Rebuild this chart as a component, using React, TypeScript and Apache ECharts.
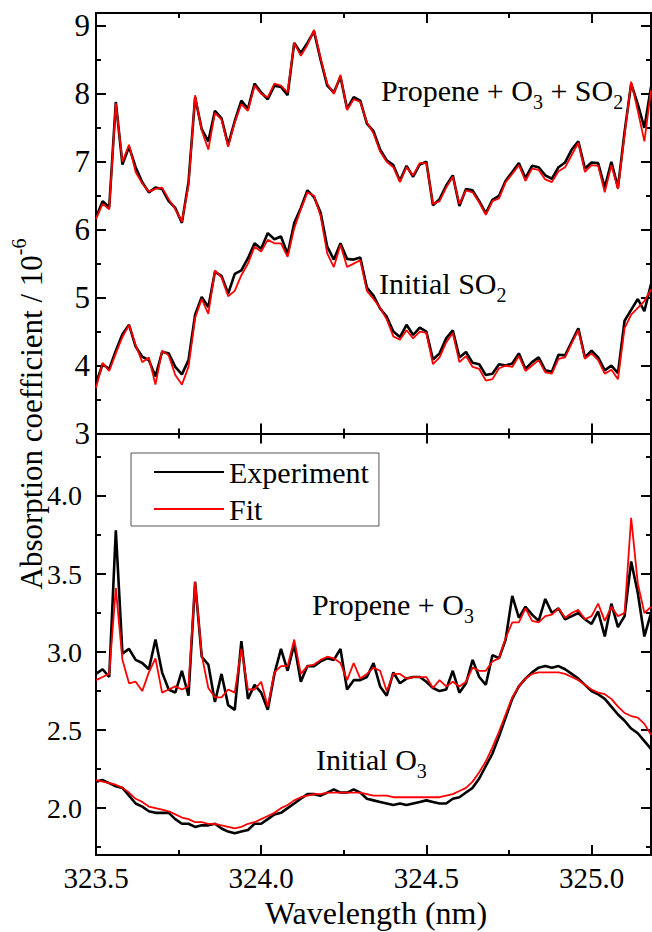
import React, { useEffect, useRef } from "react";
import * as echarts from "echarts";

// ---------- data ----------
const wavelength = [
  323.50, 323.52, 323.54, 323.56, 323.58, 323.60, 323.62, 323.64, 323.66, 323.68,
  323.70, 323.72, 323.74, 323.76, 323.78, 323.80, 323.82, 323.84, 323.86, 323.88,
  323.90, 323.92, 323.94, 323.96, 323.98, 324.00, 324.02, 324.04, 324.06, 324.08,
  324.10, 324.12, 324.14, 324.16, 324.18, 324.20, 324.22, 324.24, 324.26, 324.28,
  324.30, 324.32, 324.34, 324.36, 324.38, 324.40, 324.42, 324.44, 324.46, 324.48,
  324.50, 324.52, 324.54, 324.56, 324.58, 324.60, 324.62, 324.64, 324.66, 324.68,
  324.70, 324.72, 324.74, 324.76, 324.78, 324.80, 324.82, 324.84, 324.86, 324.88,
  324.90, 324.92, 324.94, 324.96, 324.98, 325.00, 325.02, 325.04, 325.06, 325.08,
  325.10, 325.12, 325.14, 325.16, 325.18,
];

// Propene + O3 + SO2 (top panel, upper trace)
const expPropeneO3SO2 = [
  6.18, 6.42, 6.33, 7.88, 6.96, 7.22, 6.92, 6.70, 6.55, 6.62,
  6.60, 6.42, 6.32, 6.10, 6.70, 7.95, 7.48, 7.30, 7.75, 7.64,
  7.25, 7.60, 7.90, 7.78, 8.15, 8.02, 7.92, 8.12, 8.10, 7.98,
  8.75, 8.60, 8.75, 8.92, 8.50, 8.12, 8.02, 8.25, 7.78, 7.95,
  7.90, 7.56, 7.45, 7.18, 7.02, 6.95, 6.72, 6.94, 6.78, 6.96,
  7.00, 6.36, 6.45, 6.65, 6.80, 6.35, 6.60, 6.58, 6.42, 6.24,
  6.44, 6.50, 6.72, 6.85, 6.98, 6.76, 6.94, 6.92, 6.80, 6.75,
  6.92, 6.99, 7.18, 7.30, 6.90, 6.99, 6.98, 6.62, 7.00, 6.62,
  7.44, 8.15, 7.85, 7.50, 8.10,
];
const fitPropeneO3SO2 = [
  6.16, 6.38, 6.30, 7.86, 7.00, 7.25, 6.85, 6.68, 6.56, 6.60,
  6.62, 6.45, 6.30, 6.12, 6.65, 7.98, 7.46, 7.18, 7.72, 7.62,
  7.22, 7.58, 7.85, 7.75, 8.12, 8.00, 7.95, 8.15, 8.12, 8.02,
  8.75, 8.56, 8.72, 8.94, 8.52, 8.15, 8.00, 8.28, 7.76, 7.92,
  7.88, 7.58, 7.42, 7.15, 7.00, 6.92, 6.70, 6.92, 6.80, 6.98,
  6.98, 6.38, 6.42, 6.62, 6.78, 6.38, 6.58, 6.55, 6.40, 6.22,
  6.42, 6.46, 6.70, 6.82, 6.95, 6.72, 6.90, 6.88, 6.74, 6.70,
  6.86, 6.92, 7.10, 7.28, 6.85, 6.95, 6.94, 6.55, 6.95, 6.60,
  7.40, 8.18, 7.75, 7.30, 8.05,
];

// Initial SO2 (top panel, lower trace)
const expSO2 = [
  3.74, 4.02, 3.95, 4.22, 4.46, 4.60, 4.28, 4.13, 4.08, 3.84,
  4.20, 4.18, 3.98, 3.87, 4.08, 4.75, 5.01, 4.86, 5.38, 5.32,
  5.06, 5.35, 5.40, 5.58, 5.80, 5.72, 5.95, 5.86, 5.90, 5.64,
  6.10, 6.32, 6.58, 6.48, 6.25, 5.75, 5.56, 5.80, 5.57, 5.56,
  5.59, 5.15, 5.03, 4.84, 4.72, 4.50, 4.42, 4.60, 4.45, 4.56,
  4.50, 4.09, 4.18, 4.40, 4.52, 4.12, 4.20, 4.04, 4.02, 3.86,
  3.88, 4.02, 4.00, 4.03, 4.18, 3.95, 4.05, 4.12, 3.93, 3.91,
  4.16, 4.15, 4.35, 4.55, 4.12, 4.22, 4.12, 3.93, 4.00, 3.89,
  4.66, 4.82, 4.98, 4.80, 5.20,
];
const fitSO2 = [
  3.67, 4.04, 3.92, 4.18, 4.42, 4.60, 4.30, 4.05, 4.12, 3.72,
  4.22, 4.15, 3.86, 3.72, 3.98, 4.70, 4.98, 4.76, 5.40, 5.30,
  5.02, 5.10, 5.33, 5.50, 5.75, 5.68, 5.85, 5.80, 5.80, 5.60,
  6.02, 6.30, 6.55, 6.50, 6.20, 5.65, 5.45, 5.78, 5.45, 5.50,
  5.55, 5.10, 4.98, 4.85, 4.68, 4.43, 4.38, 4.52, 4.40, 4.50,
  4.48, 4.02, 4.12, 4.34, 4.48, 4.05, 4.14, 3.98, 3.95, 3.78,
  3.80, 3.96, 4.00, 3.98, 4.14, 3.92, 4.00, 4.08, 3.90, 3.88,
  4.10, 4.12, 4.33, 4.52, 4.10, 4.18, 4.08, 3.88, 3.94, 3.80,
  4.55, 4.75, 4.85, 4.95, 5.12,
];

// Propene + O3 (bottom panel, upper trace)
const expPropeneO3 = [
  2.86, 2.89, 2.84, 3.78, 2.99, 3.02, 2.95, 2.93, 2.89, 3.08,
  2.87, 2.76, 2.74, 2.88, 2.72, 3.45, 2.97, 2.92, 2.68, 2.86,
  2.66, 2.63, 3.07, 2.70, 2.79, 2.74, 2.63, 2.86, 3.02, 2.88,
  3.05, 2.81, 2.91, 2.91, 2.94, 2.96, 2.95, 3.02, 2.76, 2.82,
  2.82, 2.84, 2.93, 2.78, 2.72, 2.87, 2.80, 2.83, 2.84, 2.84,
  2.81, 2.77, 2.75, 2.76, 2.88, 2.74, 2.80, 2.95, 2.84, 2.79,
  2.98, 2.96, 3.08, 3.36, 3.22, 3.29, 3.24, 3.20, 3.34, 3.25,
  3.28, 3.21, 3.23, 3.25, 3.21, 3.18, 3.26, 3.10, 3.31, 3.16,
  3.23, 3.58, 3.38, 3.10, 3.25,
];
const fitPropeneO3 = [
  2.82, 2.84, 2.86, 3.41, 2.95, 2.80, 2.81, 2.75, 2.87, 2.96,
  2.74, 2.76, 2.78, 2.76, 2.78, 3.45, 2.98, 2.77, 2.71, 2.71,
  2.76, 2.74, 3.02, 2.76, 2.76, 2.81, 2.65, 2.87, 2.91, 2.91,
  3.08, 2.86, 2.91, 2.92, 2.95, 2.97, 2.96, 2.93, 2.82, 2.93,
  2.83, 2.86, 2.90, 2.88, 2.75, 2.86, 2.86, 2.83, 2.84, 2.84,
  2.84, 2.77, 2.82, 2.78, 2.81, 2.78, 2.81, 2.90, 2.88, 2.88,
  2.94, 2.96, 3.09, 3.19, 3.19, 3.28, 3.20, 3.19, 3.23, 3.24,
  3.28, 3.22, 3.25, 3.27, 3.21, 3.23, 3.31, 3.20, 3.29, 3.23,
  3.25, 3.86, 3.44, 3.25, 3.29,
];

// Initial O3 (bottom panel, lower trace)
const expO3 = [
  2.17, 2.18, 2.16, 2.14, 2.13, 2.08, 2.03, 2.01, 1.98, 1.97,
  1.97, 1.97, 1.93, 1.90, 1.90, 1.88, 1.89, 1.89, 1.90, 1.87,
  1.85, 1.84, 1.85, 1.86, 1.90, 1.90, 1.93, 1.96, 1.97, 2.00,
  2.03, 2.06, 2.09, 2.09, 2.08, 2.10, 2.12, 2.10, 2.10, 2.12,
  2.10, 2.06, 2.05, 2.04, 2.03, 2.02, 2.03, 2.02, 2.03, 2.04,
  2.05, 2.04, 2.03, 2.03, 2.06, 2.07, 2.10, 2.13, 2.19, 2.27,
  2.35, 2.46, 2.58, 2.70, 2.78, 2.83, 2.87, 2.90, 2.91, 2.90,
  2.91, 2.89, 2.86, 2.83, 2.79, 2.75, 2.73, 2.70, 2.65, 2.60,
  2.56, 2.51, 2.48, 2.43, 2.38,
];
const fitO3 = [
  2.18, 2.17, 2.16, 2.15, 2.13, 2.10, 2.06, 2.04, 2.01, 2.00,
  1.99, 1.98, 1.96, 1.94, 1.93, 1.91, 1.91, 1.90, 1.90, 1.89,
  1.88, 1.87, 1.88, 1.90, 1.91, 1.93, 1.95, 1.97, 2.00, 2.02,
  2.05, 2.07, 2.08, 2.09, 2.09, 2.10, 2.10, 2.10, 2.10, 2.10,
  2.10, 2.09, 2.08, 2.08, 2.08, 2.07, 2.07, 2.07, 2.07, 2.07,
  2.07, 2.07, 2.07, 2.08, 2.09, 2.11, 2.13, 2.17, 2.23, 2.30,
  2.39, 2.49, 2.60, 2.71, 2.78, 2.83, 2.86, 2.87, 2.87, 2.87,
  2.87, 2.86, 2.84, 2.82, 2.79, 2.76, 2.74, 2.73, 2.70, 2.65,
  2.61, 2.59, 2.58, 2.54, 2.47,
];

const xMajorTicks = [323.5, 324.0, 324.5, 325.0];
const xMinorTicks = [323.75, 324.25, 324.75];
const topMajorTicks = [3, 4, 5, 6, 7, 8, 9];
const topMinorTicks = [3.5, 4.5, 5.5, 6.5, 7.5, 8.5];
const bottomMajorTicks = [2.0, 2.5, 3.0, 3.5, 4.0];
const bottomMinorTicks = [1.75, 2.25, 2.75, 3.25, 3.75, 4.25];

// ---------- chart ----------
const FONT = "'Liberation Serif', 'Times New Roman', Times, serif";
const X_MIN = 323.5;
const X_MAX = 325.18;
const TOP_MIN = 3;
const TOP_MAX = 9.19;
const BOT_MIN = 1.7;
const BOT_MAX = 4.4;

const pairs = (ys: number[]) => wavelength.map((w, i) => [w, ys[i]]);

function xAxisDef(gridIndex: number, position: string, ticks: number[], len: number, line: boolean, labels: boolean) {
  return {
    type: "value",
    gridIndex,
    position,
    min: X_MIN,
    max: X_MAX,
    axisLine: { show: line, onZero: false, lineStyle: { color: "#000", width: 2 } },
    axisTick: { show: true, inside: true, length: len, customValues: ticks, lineStyle: { color: "#000", width: 2 } },
    axisLabel: {
      show: labels,
      customValues: ticks,
      formatter: (v: number) => v.toFixed(1),
      fontFamily: FONT,
      fontSize: 29,
      color: "#000",
      margin: 8,
    },
    splitLine: { show: false },
  };
}

function yAxisDef(
  gridIndex: number,
  position: string,
  min: number,
  max: number,
  ticks: number[],
  len: number,
  line: boolean,
  label: any
) {
  return {
    type: "value",
    gridIndex,
    position,
    min,
    max,
    axisLine: { show: line, onZero: false, lineStyle: { color: "#000", width: 2 } },
    axisTick: { show: true, inside: true, length: len, customValues: ticks, lineStyle: { color: "#000", width: 2 } },
    axisLabel: label ? { customValues: ticks, color: "#000", fontFamily: FONT, ...label } : { show: false },
    splitLine: { show: false },
  };
}

const sub = { fontSize: 20, fontFamily: FONT, fill: "#000", lineHeight: 20, verticalAlign: "bottom" };
const main = { fontSize: 30, fontFamily: FONT, fill: "#000", lineHeight: 44 };

function annotation(left: number, top: number, text: string) {
  return {
    type: "text",
    left,
    top,
    silent: true,
    style: { text, rich: { m: main, s: sub }, fill: "#000" },
  };
}

function line(name: string, xi: number, yi: number, data: number[], black: boolean) {
  return {
    type: "line",
    name,
    xAxisIndex: xi,
    yAxisIndex: yi,
    data: pairs(data),
    symbol: "none",
    showSymbol: false,
    lineStyle: { color: black ? "#000" : "#ff0000", width: black ? 2.6 : 1.8 },
    itemStyle: { color: black ? "#000" : "#ff0000" },
    z: black ? 2 : 3,
  };
}

export default function App() {
  const ref = useRef<HTMLDivElement>(null);

  useEffect(() => {
    if (!ref.current) return;
    const chart = echarts.init(ref.current, undefined, { renderer: "svg" });
    const option: any = {
      animation: false,
      backgroundColor: "#fff",
      grid: [
        { left: 96, top: 13, width: 555, height: 420.5, outerBoundsMode: "none" },
        { left: 96, top: 433.5, width: 555, height: 421.5, outerBoundsMode: "none" },
      ],
      xAxis: [
        xAxisDef(0, "bottom", xMajorTicks, 10, true, false),
        xAxisDef(0, "bottom", xMinorTicks, 5, false, false),
        xAxisDef(0, "top", xMajorTicks, 10, true, false),
        xAxisDef(0, "top", xMinorTicks, 5, false, false),
        xAxisDef(1, "bottom", xMajorTicks, 10, true, true),
        xAxisDef(1, "bottom", xMinorTicks, 5, false, false),
        xAxisDef(1, "top", xMajorTicks, 10, true, false),
        xAxisDef(1, "top", xMinorTicks, 5, false, false),
      ],
      yAxis: [
        yAxisDef(0, "left", TOP_MIN, TOP_MAX, topMajorTicks, 10, true, {
          fontSize: 31,
          margin: 6,
          formatter: (v: number) => String(Math.round(v)),
        }),
        yAxisDef(0, "left", TOP_MIN, TOP_MAX, topMinorTicks, 5, false, null),
        yAxisDef(0, "right", TOP_MIN, TOP_MAX, topMajorTicks, 10, true, null),
        yAxisDef(0, "right", TOP_MIN, TOP_MAX, topMinorTicks, 5, false, null),
        yAxisDef(1, "left", BOT_MIN, BOT_MAX, bottomMajorTicks, 10, true, {
          fontSize: 28,
          margin: 14,
          formatter: (v: number) => v.toFixed(1),
        }),
        yAxisDef(1, "left", BOT_MIN, BOT_MAX, bottomMinorTicks, 5, false, null),
        yAxisDef(1, "right", BOT_MIN, BOT_MAX, bottomMajorTicks, 10, true, null),
        yAxisDef(1, "right", BOT_MIN, BOT_MAX, bottomMinorTicks, 5, false, null),
      ],
      legend: {
        data: ["Experiment", "Fit"],
        orient: "vertical",
        left: 131,
        top: 453,
        padding: [4, 10, 2, 22],
        itemWidth: 70,
        itemHeight: 14,
        itemGap: 7,
        borderColor: "#555",
        borderWidth: 1,
        backgroundColor: "#fff",
        itemStyle: { opacity: 0 },
        textStyle: { fontFamily: FONT, fontSize: 30, color: "#000" },
      },
      series: [
        line("Experiment", 0, 0, expPropeneO3SO2, true),
        line("Fit", 0, 0, fitPropeneO3SO2, false),
        line("Experiment", 0, 0, expSO2, true),
        line("Fit", 0, 0, fitSO2, false),
        line("Experiment", 4, 4, expPropeneO3, true),
        line("Fit", 4, 4, fitPropeneO3, false),
        line("Experiment", 4, 4, expO3, true),
        line("Fit", 4, 4, fitO3, false),
      ],
      graphic: [
        annotation(381, 75, "{m|Propene + O}{s|3}{m| + SO}{s|2}"),
        annotation(379, 268, "{m|Initial SO}{s|2}"),
        annotation(312, 589, "{m|Propene + O}{s|3}"),
        annotation(316, 744, "{m|Initial O}{s|3}"),
        {
          type: "text",
          x: 31,
          y: 414,
          rotation: Math.PI / 2,
          silent: true,
          style: {
            text: "{m|Absorption coefficient / 10}{p|-6}",
            align: "center",
            verticalAlign: "middle",
            rich: {
              m: { fontSize: 31, fontFamily: FONT, fill: "#000", lineHeight: 44 },
              p: { fontSize: 20, fontFamily: FONT, fill: "#000", lineHeight: 20, verticalAlign: "top" },
            },
          },
        },
        {
          type: "text",
          x: 376,
          y: 913,
          silent: true,
          style: {
            text: "Wavelength (nm)",
            align: "center",
            verticalAlign: "middle",
            fontSize: 32,
            fontFamily: FONT,
            fill: "#000",
          },
        },
      ],
    };
    chart.setOption(option);
    return () => chart.dispose();
  }, []);

  return (
    <div
      ref={ref}
      style={{ position: "absolute", left: 0, top: 0, width: 652, height: 932, background: "#fff" }}
    />
  );
}
